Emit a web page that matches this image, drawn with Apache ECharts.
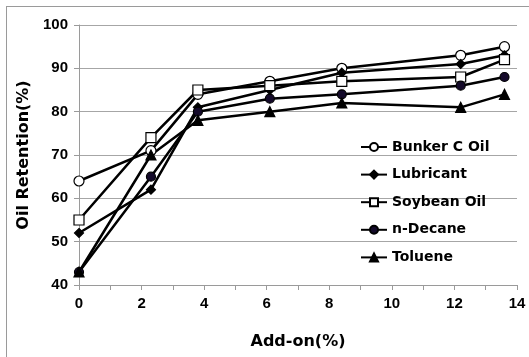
<!DOCTYPE html>
<html>
<head>
<meta charset="utf-8">
<script src="https://cdn.jsdelivr.net/npm/echarts@6/dist/echarts.min.js"></script>
<style>
  html, body { margin: 0; padding: 0; background: #fff; }
  #frame { position: absolute; left: 6px; top: 6px; width: 540px; height: 370px; border: 1px solid #9a9a9a; }
  #main { position: absolute; left: 0; top: 0; width: 529px; height: 357px; }
</style>
</head>
<body>
<div id="frame"></div>
<div id="main"></div>
<script>
// 数据
var addOn = [0, 2.3, 3.8, 6.1, 8.4, 12.2, 13.6];
var bunker = [64, 71, 84, 87, 90, 93, 95];
var lubricant = [52, 62, 81, 85, 89, 91, 93];
var soybean = [55, 74, 85, 86, 87, 88, 92];
var decane = [43, 65, 80, 83, 84, 86, 88];
var toluene = [43, 70, 78, 80, 82, 81, 84];
var seriesNames = ['Bunker C Oil', 'Lubricant', 'Soybean Oil', 'n-Decane', 'Toluene'];

function pairs(ys) {
    var out = [];
    for (var i = 0; i < addOn.length; i++) {
        out.push([addOn[i], ys[i]]);
    }
    return out;
}

function mkSeries(name, ys, symbol, size, fill) {
    return {
        name: name,
        type: 'line',
        data: pairs(ys),
        symbol: symbol,
        symbolSize: size,
        showAllSymbol: true,
        lineStyle: { color: '#000', width: 2.5 },
        itemStyle: { color: fill, borderColor: '#000', borderWidth: 1.2 },
        emphasis: { disabled: true },
        z: 3
    };
}

var chart = echarts.init(document.getElementById('main'));
var font = 'Liberation Sans, Arial, sans-serif';
var wide = 'DejaVu Sans, sans-serif';

var option = {
    backgroundColor: 'transparent',
    animation: false,
    grid: { left: 79, right: 12, top: 25, bottom: 72 },
    legend: {
        orient: 'vertical',
        left: 355,
        top: 135,
        itemWidth: 26,
        itemHeight: 10,
        itemGap: 13.6,
        data: seriesNames,
        textStyle: { fontFamily: wide, fontWeight: 'bold', fontSize: 14, color: '#000' }
    },
    xAxis: {
        type: 'value',
        min: 0,
        max: 14,
        interval: 2,
        name: 'Add-on(%)',
        nameLocation: 'middle',
        nameGap: 49,
        nameTextStyle: { fontFamily: wide, fontWeight: 'bold', fontSize: 16, color: '#000' },
        axisLine: { show: true, lineStyle: { color: '#9a9a9a', width: 1 } },
        axisTick: { show: true, length: 5, lineStyle: { color: '#9a9a9a' } },
        minorTick: { show: true, splitNumber: 2, length: 5, lineStyle: { color: '#9a9a9a' } },
        axisLabel: { fontFamily: font, fontWeight: 'bold', fontSize: 15, color: '#000', margin: 11 },
        splitLine: { show: false }
    },
    yAxis: {
        type: 'value',
        min: 40,
        max: 100,
        interval: 10,
        name: 'Oil Retention(%)',
        nameLocation: 'middle',
        nameGap: 46,
        nameTextStyle: { fontFamily: wide, fontWeight: 'bold', fontSize: 16, color: '#000' },
        axisLine: { show: true, lineStyle: { color: '#9a9a9a', width: 1 } },
        axisTick: { show: true, length: 5, lineStyle: { color: '#9a9a9a' } },
        axisLabel: { fontFamily: font, fontWeight: 'bold', fontSize: 15, color: '#000', margin: 11 },
        splitLine: { show: true, lineStyle: { color: '#a6a6a6', width: 1 } }
    },
    series: [
        mkSeries('Bunker C Oil', bunker, 'circle', 10, '#fff'),
        mkSeries('Lubricant', lubricant, 'diamond', 9, '#000'),
        mkSeries('Soybean Oil', soybean, 'rect', 10, '#fff'),
        mkSeries('n-Decane', decane, 'circle', 9, '#140a2a'),
        mkSeries('Toluene', toluene, 'triangle', 10, '#000')
    ]
};
chart.setOption(option);
</script>
</body>
</html>
